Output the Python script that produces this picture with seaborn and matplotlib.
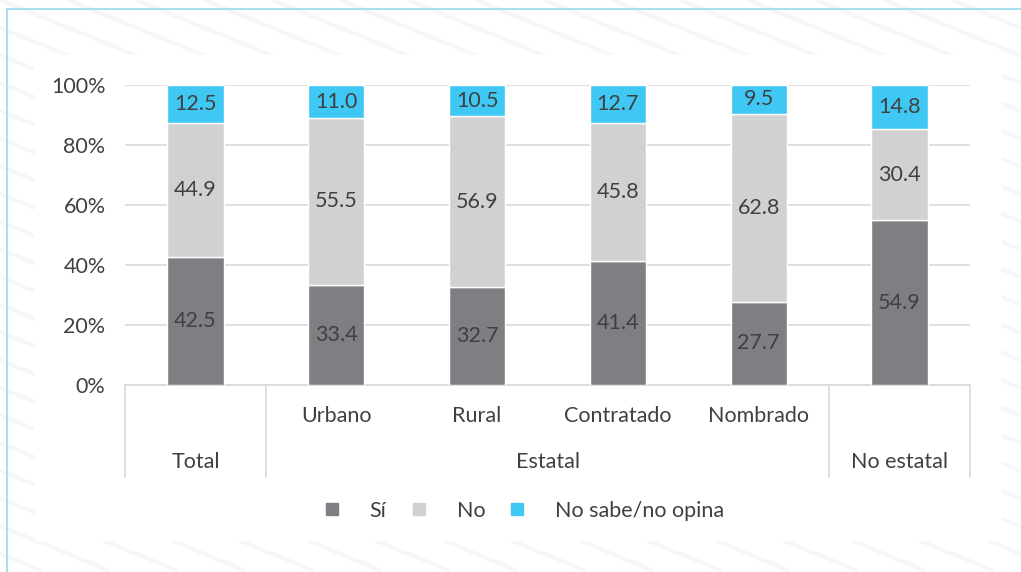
import pandas as pd
import matplotlib.pyplot as plt
import seaborn as sns
from matplotlib.lines import Line2D
from matplotlib.patches import Rectangle

# Data
categories = ['Total', 'Urbano', 'Rural', 'Contratado', 'Nombrado', 'No estatal']
sub_labels = ['', 'Urbano', 'Rural', 'Contratado', 'Nombrado', '']
groups = ['Total', 'Estatal', 'No estatal']
group_spans = [(0, 0), (1, 4), (5, 5)]
si = [42.5, 33.4, 32.7, 41.4, 27.7, 54.9]
no = [44.9, 55.5, 56.9, 45.8, 62.8, 30.4]
no_sabe = [12.5, 11.0, 10.5, 12.7, 9.5, 14.8]

series = ['Sí', 'No', 'No sabe/no opina']
colors = ['#7f7f83', '#d1d1d3', '#40c8f4']
text_color = '#404040'
fs = 15.5

df = pd.DataFrame({'cat': categories, 'Sí': si, 'No': no, 'No sabe/no opina': no_sabe})
totals = df[series].sum(axis=1)
for s in series:
    df[s + '_pct'] = df[s] / totals * 100

sns.set_style('white')
plt.rcParams['font.family'] = ['Lato', 'DejaVu Sans']

fig = plt.figure(figsize=(10.21, 5.72), dpi=100)

# faint diagonal stripes in the background
for k in range(-24, 18):
    x0 = k * 68 / 1021
    fig.add_artist(Line2D([x0, x0 + 1400 / 1021], [1, 1 - 570 / 572],
                          transform=fig.transFigure, color='#f7f7f7', lw=3, zorder=0))
fig.add_artist(Rectangle((35 / 1021, 1 - 540 / 572), 965 / 1021, 485 / 572,
                         transform=fig.transFigure, color='white', zorder=0.5))
# light blue frame (left + top)
fig.add_artist(Line2D([7 / 1021, 7 / 1021], [0, 1 - 9 / 572], transform=fig.transFigure,
                      color='#a8dff2', lw=1.5, zorder=1))
fig.add_artist(Line2D([7 / 1021, 1], [1 - 9 / 572, 1 - 9 / 572], transform=fig.transFigure,
                      color='#a8dff2', lw=1.5, zorder=1))

ax = fig.add_axes([125 / 1021, 1 - 385 / 572, 845 / 1021, 300 / 572])
ax.set_zorder(2)
ax.patch.set_alpha(0)

bottom = pd.Series([0.0] * len(df))
for s, c in zip(series, colors):
    sns.barplot(data=df, x='cat', y=s + '_pct', order=categories, color=c,
                bottom=bottom.values, width=0.4, ax=ax, zorder=3, saturation=1)
    for i, (v, b) in enumerate(zip(df[s + '_pct'], bottom)):
        ax.text(i, b + v / 2, f'{df[s][i]:.1f}', ha='center', va='center',
                fontsize=fs, color=text_color, zorder=4)
    bottom = bottom + df[s + '_pct']

ax.set_xlim(-0.5, 5.5)
ax.set_ylim(0, 100)
ax.set_yticks(range(0, 101, 20))
ax.set_yticklabels([f'{v}%' for v in range(0, 101, 20)])
ax.yaxis.grid(True, color='#d9d9d9', lw=1.2, zorder=0)
ax.set_axisbelow(True)
ax.set_xlabel('')
ax.set_ylabel('')
for sp in ['left', 'right', 'top']:
    ax.spines[sp].set_visible(False)
ax.spines['bottom'].set_color('#d9d9d9')
ax.spines['bottom'].set_linewidth(1.2)

ax.set_xticks(range(len(categories)))
ax.set_xticklabels(sub_labels)
ax.tick_params(axis='x', length=0, pad=15, labelsize=fs, labelcolor=text_color)
ax.tick_params(axis='y', length=0, pad=14, labelsize=fs, labelcolor=text_color)

trans = ax.get_xaxis_transform()
for g, (a, b) in zip(groups, group_spans):
    ax.text((a + b) / 2, -0.255, g, transform=trans, ha='center', va='center',
            fontsize=fs, color=text_color)
for xb in [-0.5, 0.5, 4.5, 5.5]:
    ax.plot([xb, xb], [0, -0.307], transform=trans, color='#d9d9d9', lw=1.2, clip_on=False)

handles = [Line2D([], [], marker='s', ls='none', markersize=9, color=c) for c in colors]
leg = fig.legend(handles, series, loc='center', bbox_to_anchor=(0.512, 1 - 511 / 572), ncol=3,
                 frameon=False, fontsize=fs, handletextpad=1.25, columnspacing=1.0,
                 handlelength=1.0, labelcolor=text_color)
leg.set_zorder(3)

fig.savefig('out.png', dpi=100)
